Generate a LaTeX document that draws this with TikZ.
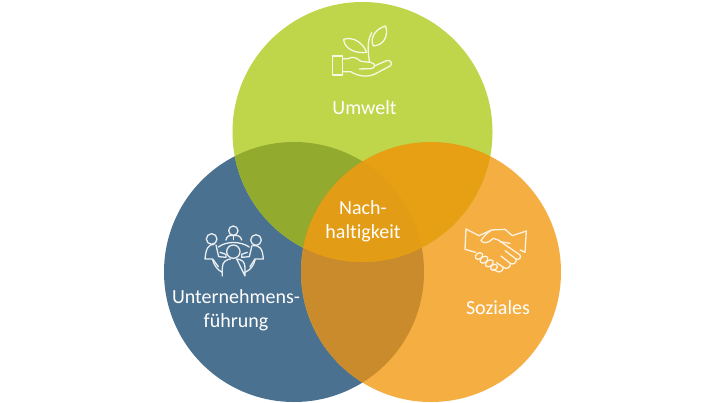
\documentclass[tikz,border=0pt]{standalone}
\usepackage{fontspec}
\setmainfont[RawFeature={-liga}]{Carlito}
\definecolor{cgreen}{HTML}{BFD54A}
\definecolor{cblue}{HTML}{4B7190}
\definecolor{corange}{HTML}{F4AE42}
\definecolor{cgb}{HTML}{92AB2E}
\definecolor{cgo}{HTML}{E79F14}
\definecolor{cbo}{HTML}{C98B2C}
\definecolor{cmid}{HTML}{E39C16}
\tikzset{
  lbl/.style={text=white,font=\fontsize{20}{24}\selectfont,align=center,inner sep=0pt},
  ico/.style={draw=#1,line width=1.3pt,line join=round,line cap=round,fill=none},
}
\begin{document}
\begin{tikzpicture}[x=1pt,y=-1pt]
\useasboundingbox (0,0) rectangle (720,403);
\fill[white] (0,0) rectangle (720,403);
\def\ctop{(362.5,132) circle[radius=130]}
\def\cleft{(294,272) circle[radius=130]}
\def\cright{(431,272) circle[radius=130]}
\fill[cblue] \cleft;
\fill[corange] \cright;
\fill[cgreen] \ctop;
\begin{scope}\clip \ctop; \fill[cgb] \cleft; \end{scope}
\begin{scope}\clip \cleft; \fill[cbo] \cright; \end{scope}
\begin{scope}\clip \ctop; \fill[cgo] \cright; \end{scope}
\begin{scope}\clip \ctop; \clip \cleft; \fill[cmid] \cright; \end{scope}
\node[lbl] (umwelt) at (364.5,108) {Umwelt};
\node[lbl] (nach) at (363,221) {Nach-\\haltigkeit};
\node[lbl] (unter) at (236,310.5) {Unternehmens-\\führung};
\node[lbl] (soz) at (498,308) {Soziales};
% plant in hand
\begin{scope}[shift={(320,20)},x=0.3333pt,y=-0.3333pt]
\tikzset{every path/.style={ico=white!85!cgreen}}
\draw (38,108) rectangle (68,165);
\draw (68,116) -- (85,116) .. controls (95,110) and (108,110) .. (122,124) -- (152,127) .. controls (168,129) and (168,146) .. (150,146) -- (118,147);
\draw (68,155) -- (92,155) .. controls (115,170) and (145,172) .. (165,162) -- (212,137) .. controls (218,128) and (210,118) .. (200,122) -- (165,137);
\draw (148,125) .. controls (146,100) and (138,70) .. (155,38);
\draw (140,97) .. controls (130,70) and (100,48) .. (71,58) .. controls (72,85) and (105,102) .. (140,97);
\draw (160,78) .. controls (148,50) and (170,25) .. (197,18) .. controls (206,50) and (190,76) .. (160,78);
\end{scope}
% meeting
\begin{scope}[shift={(190,215)},x=0.3333pt,y=-0.3333pt]
\tikzset{every path/.style={ico=white!88!cblue}}
\draw (130,47) circle[radius=14];
\draw (65,72) circle[radius=16];
\draw (198,75) circle[radius=16];
\draw (130,110) circle[radius=20];
\draw (97,183) -- (97,158) .. controls (97,140) and (110,133) .. (122,132) (140,132) .. controls (155,133) and (165,140) .. (165,158) -- (165,183) -- cycle;
\draw (108,75) .. controls (110,62) and (120,60) .. (130,62) .. controls (142,60) and (152,62) .. (155,75);
\draw (130,62) -- (130,74);
\draw (85,96) .. controls (110,78) and (150,78) .. (178,96);
\draw (72,88) .. controls (55,88) and (48,100) .. (45,132) -- (68,132) -- (85,155) (78,90) -- (86,125) -- (108,127) -- (108,118) -- (90,112);
\draw (190,92) .. controls (208,90) and (218,100) .. (220,132) -- (195,132) -- (180,155) (186,92) -- (178,125) -- (155,127) -- (155,118) -- (172,112);
\draw (68,135) .. controls (72,150) and (82,165) .. (97,172);
\draw (195,135) .. controls (192,150) and (182,165) .. (165,172);
\end{scope}
% handshake
\begin{scope}[shift={(455,220)},x=0.3333pt,y=-0.3333pt]
\tikzset{every path/.style={ico=white!85!corange}}
\draw (33,27) -- (72,47) -- (110,30) -- (150,28) -- (172,47) -- (214,33) -- (210,97) -- (195,90);
\draw (33,27) -- (30,88) -- (62,97);
\draw (110,30) .. controls (95,40) and (85,50) .. (78,62) .. controls (85,72) and (100,70) .. (115,55) -- (130,60) -- (195,105) .. controls (200,112) and (192,122) .. (183,117) -- (150,92);
\draw (183,117) .. controls (186,128) and (175,136) .. (166,130) -- (138,108);
\draw (166,130) .. controls (168,142) and (155,150) .. (145,142) -- (125,128);
\draw (145,142) .. controls (145,155) and (130,160) .. (122,152) -- (115,147);
\draw[rotate around={35:(72,108)}] (72,108) ellipse[x radius=12,y radius=9];
\draw[rotate around={35:(87,119)}] (87,119) ellipse[x radius=13,y radius=9];
\draw[rotate around={35:(103,130)}] (103,130) ellipse[x radius=13,y radius=9];
\draw[rotate around={35:(117,142)}] (117,142) ellipse[x radius=11,y radius=8];
\draw (135,65) -- (165,70);
\end{scope}
\end{tikzpicture}
\end{document}
